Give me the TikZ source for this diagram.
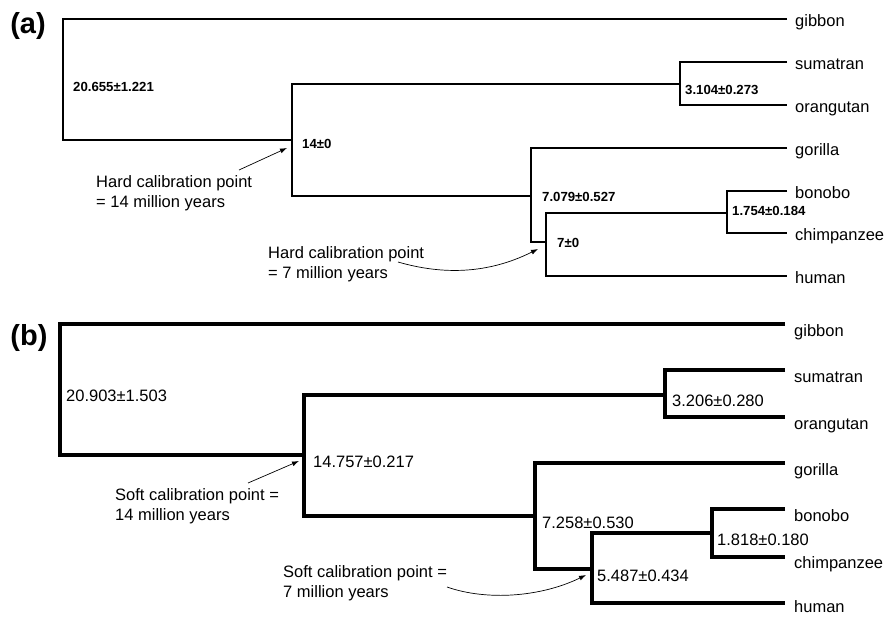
\documentclass[tikz,border=0pt]{standalone}
\usepackage{fontspec}
\setmainfont{Liberation Sans}
\usetikzlibrary{arrows.meta}

\tikzset{
  branchA/.style={line width=2.4pt},
  branchB/.style={line width=3.2pt},
  panel/.style={inner sep=0pt, font=\bfseries\fontsize{29}{32}\selectfont},
  taxon/.style={anchor=base west, inner sep=0pt, font=\fontsize{16.5}{20}\selectfont},
  ageA/.style={anchor=base west, inner sep=0pt, font=\bfseries\fontsize{13.2}{16}\selectfont},
  ageB/.style={anchor=base west, inner sep=0pt, font=\fontsize{16.5}{20}\selectfont},
  note/.style={anchor=north west, inner sep=0pt, align=left, font=\fontsize{16.5}{20}\selectfont},
  calarrow/.style={-{Latex[length=7pt,width=5pt]}, line width=0.7pt},
}

\begin{document}
\begin{tikzpicture}[x=1pt, y=-1pt]
  \useasboundingbox (0,0) rectangle (885,616);

  % (a) hard calibration
  \node[panel] (panelA) at (28,26) {(a)};
  \foreach \leaf/\ly in {gibbon/19, sumatran/62, orangutan/105, gorilla/148,
                         bonobo/191, chimpanzee/233, human/276}{
    \coordinate (\leaf-a) at (787,\ly);
    \node[taxon] (\leaf-a-lbl) at (795,\ly+7.5) {\leaf};
  }
  \coordinate (rootA) at (63,80);
  \coordinate (hominidA) at (292,140);
  \coordinate (pongoA) at (680,84);
  \coordinate (homininA) at (531,196);
  \coordinate (hominiA) at (546,242);
  \coordinate (panA) at (727,213);

  \draw[branchA] (gibbon-a) -| (rootA) |- (hominidA);
  \draw[branchA] (pongoA) -| (hominidA) |- (homininA);
  \draw[branchA] (sumatran-a) -| (pongoA) |- (orangutan-a);
  \draw[branchA] (gorilla-a) -| (homininA) |- (hominiA);
  \draw[branchA] (panA) -| (hominiA) |- (human-a);
  \draw[branchA] (bonobo-a) -| (panA) |- (chimpanzee-a);

  \node[ageA] (ageRootA) at (73,91) {20.655±1.221};
  \node[ageA] (ageHominidA) at (302,148) {14±0};
  \node[ageA] (agePongoA) at (685,94) {3.104±0.273};
  \node[ageA] (ageHomininA) at (542,201) {7.079±0.527};
  \node[ageA] (ageHominiA) at (557,247) {7±0};
  \node[ageA] (agePanA) at (732,215) {1.754±0.184};

  \node[note] (hardA14) at (96,175) {Hard calibration point\\= 14 million years};
  \node[note] (hardA7) at (268,246) {Hard calibration point\\= 7 million years};
  \draw[calarrow] ([shift={(143,-5)}]hardA14.north west) -- ([shift={(-5,8)}]hominidA);
  \draw[calarrow] ([shift={(130,16)}]hardA7.north west)
    .. controls +(45,13) and +(-50,25) .. ([shift={(-8,7)}]hominiA);

  % (b) soft calibration
  \node[panel] (panelB) at (29,338) {(b)};
  \foreach \leaf/\ly/\dy in {gibbon/324/12, sumatran/370/12, orangutan/417/12,
                             gorilla/463/12, bonobo/509/12, chimpanzee/557/11,
                             human/603/9}{
    \coordinate (\leaf-b) at (785,\ly);
    \node[taxon] (\leaf-b-lbl) at (794,\ly+\dy) {\leaf};
  }
  \coordinate (rootB) at (60,390);
  \coordinate (hominidB) at (304,455);
  \coordinate (pongoB) at (665,395);
  \coordinate (homininB) at (535,516);
  \coordinate (hominiB) at (592,569);
  \coordinate (panB) at (712,533);

  \draw[branchB] (gibbon-b) -| (rootB) |- (hominidB);
  \draw[branchB] (pongoB) -| (hominidB) |- (homininB);
  \draw[branchB] (sumatran-b) -| (pongoB) |- (orangutan-b);
  \draw[branchB] (gorilla-b) -| (homininB) |- (hominiB);
  \draw[branchB] (panB) -| (hominiB) |- (human-b);
  \draw[branchB] (bonobo-b) -| (panB) |- (chimpanzee-b);

  \node[ageB] (ageRootB) at (66,401) {20.903±1.503};
  \node[ageB] (ageHominidB) at (313,467) {14.757±0.217};
  \node[ageB] (agePongoB) at (672,406) {3.206±0.280};
  \node[ageB] (ageHomininB) at (542,528) {7.258±0.530};
  \node[ageB] (ageHominiB) at (597,581) {5.487±0.434};
  \node[ageB] (agePanB) at (717,545) {1.818±0.180};

  \node[note] (softB14) at (115,488) {Soft calibration point =\\14 million years};
  \node[note] (softB7) at (283,565) {Soft calibration point =\\7 million years};
  \draw[calarrow] ([shift={(133,-5)}]softB14.north west) -- ([shift={(-5,6)}]hominidB);
  \draw[calarrow] ([shift={(164,22)}]softB7.north west)
    .. controls +(40,14) and +(-45,22) .. ([shift={(-6,6)}]hominiB);
\end{tikzpicture}
\end{document}
